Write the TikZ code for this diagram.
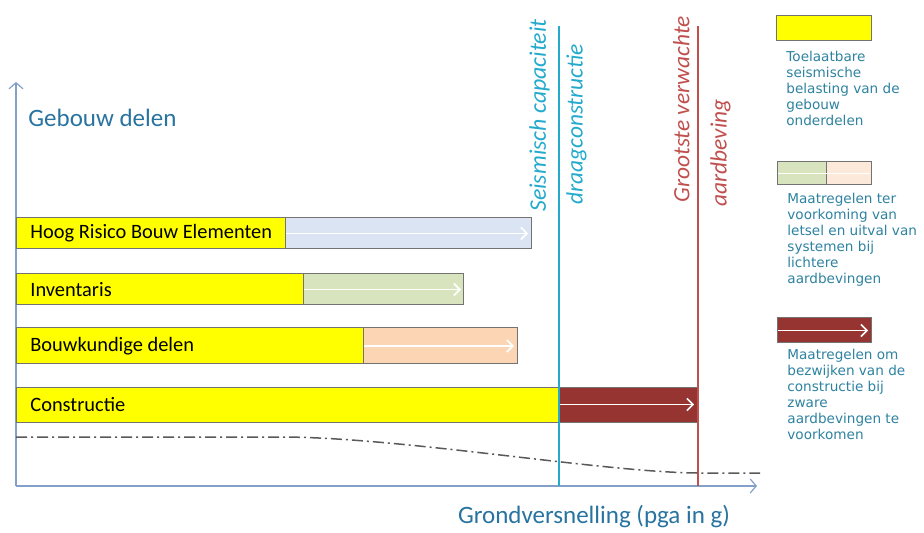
\documentclass[tikz,border=0pt]{standalone}
\usepackage{fontspec}
\setmainfont{Carlito}
\newfontfamily\legendfont{DejaVu Sans}
\usetikzlibrary{calc,arrows.meta}
\usepackage{xcolor}

\definecolor{axisblue}{RGB}{130,160,200}
\definecolor{titleblue}{RGB}{40,115,160}
\definecolor{capcyan}{RGB}{35,170,205}
\definecolor{quakered}{RGB}{192,80,77}
\definecolor{baryellow}{RGB}{255,255,0}
\definecolor{barblue}{RGB}{219,228,243}
\definecolor{bargreen}{RGB}{215,228,189}
\definecolor{barpeach}{RGB}{252,213,181}
\definecolor{barred}{RGB}{150,52,50}
\definecolor{lightpeach}{RGB}{253,233,217}
\definecolor{legendtext}{RGB}{45,130,160}

\begin{document}
\begin{tikzpicture}[x=0.5pt,y=-0.5pt,
    barbox/.style={draw=black!55,line width=0.5pt},
    barlabel/.style={anchor=west,inner sep=0pt,font=\fontsize{10.2}{12}\selectfont},
    whitearrow/.style={white,line width=0.8pt,-{Straight Barb[length=3pt,width=6pt]}},
    legendlabel/.style={anchor=north west,inner sep=0pt,align=left,text=legendtext,
      font=\legendfont\fontsize{6.8}{8}\selectfont}]
  \useasboundingbox (0,0) rectangle (924,533);

  % Assen
  \coordinate (O) at (16,486);
  \coordinate (Ytop) at (16,82);
  \coordinate (Xend) at (757,486);
  \draw[axisblue,line width=0.6pt,-{Straight Barb[length=3pt,width=7pt]}] (O) -- (Ytop);
  \draw[axisblue,line width=0.6pt,-{Straight Barb[length=3pt,width=7pt]}] (O) -- (Xend);
  \node[anchor=west,inner sep=0pt,text=titleblue,font=\fontsize{12.5}{14}\selectfont] (ytitle) at (28,118) {Gebouw delen};
  \node[inner sep=0pt,text=titleblue,font=\fontsize{12.5}{14}\selectfont] (xtitle) at (594,517) {Grondversnelling (pga in g)};

  % Balken
  \draw[barbox,fill=baryellow] (16,218) rectangle (285,249);
  \draw[barbox,fill=barblue] (285,218) rectangle (531,249);
  \node[barlabel] (hrbe) at (30,233.5) {Hoog Risico Bouw Elementen};
  \coordinate (hrbe-s) at (286,233.5);
  \coordinate (hrbe-e) at (528,233.5);
  \draw[whitearrow] (hrbe-s) -- (hrbe-e);

  \draw[barbox,fill=baryellow] (16,274) rectangle (303,305);
  \draw[barbox,fill=bargreen] (303,274) rectangle (463,305);
  \node[barlabel] (inv) at (30,289.5) {Inventaris};
  \coordinate (inv-s) at (304,289.5);
  \coordinate (inv-e) at (461,289.5);
  \draw[whitearrow] (inv-s) -- (inv-e);

  \draw[barbox,fill=baryellow] (16,328) rectangle (363,364);
  \draw[barbox,fill=barpeach] (363,328) rectangle (517,364);
  \node[barlabel] (bkd) at (30,346) {Bouwkundige delen};
  \coordinate (bkd-s) at (364,346);
  \coordinate (bkd-e) at (514,346);
  \draw[whitearrow] (bkd-s) -- (bkd-e);

  \draw[barbox,fill=baryellow] (16,387) rectangle (559,422);
  \draw[barbox,fill=barred] (559,387) rectangle (697,422);
  \node[barlabel] (con) at (30,404.5) {Constructie};
  \coordinate (con-s) at (560,404.5);
  \coordinate (con-e) at (694,404.5);
  \draw[whitearrow] (con-s) -- (con-e);

  % Grenzen
  \coordinate (cap-t) at (559,26);
  \coordinate (cap-b) at (559,486);
  \coordinate (eq-t) at (698,26);
  \coordinate (eq-b) at (698,486);
  \draw[capcyan,line width=1pt] (cap-t) -- (cap-b);
  \draw[quakered,line width=1pt] (eq-t) -- (eq-b);
  \node[rotate=90,anchor=south west,inner sep=0pt,text=capcyan,font=\itshape\fontsize{11.9}{13}\selectfont] (cap1) at (550,212) {Seismisch capaciteit};
  \node[rotate=90,anchor=north west,inner sep=0pt,text=capcyan,font=\itshape\fontsize{11.7}{13}\selectfont] (cap2) at (566,205) {draagconstructie};
  \node[rotate=90,anchor=south west,inner sep=0pt,text=quakered,font=\itshape\fontsize{11.7}{13}\selectfont] (eq1) at (690,203) {Grootste verwachte};
  \node[rotate=90,anchor=north west,inner sep=0pt,text=quakered,font=\itshape\fontsize{11.7}{13}\selectfont] (eq2) at (710,207) {aardbeving};

  % Streep-punt lijn
  \coordinate (dd-a) at (16,437);
  \coordinate (dd-b) at (280,437);
  \coordinate (dd-c) at (697,473);
  \coordinate (dd-d) at (760,473);
  \draw[black!65,line width=0.75pt,dash pattern=on 5.5pt off 2pt on 1pt off 2pt]
    (dd-a) -- (dd-b) .. controls (400,437) and (600,472) .. (dd-c) -- (dd-d);

  % Legenda
  \draw[barbox,fill=baryellow] (776,16) rectangle (871,41);
  \node[legendlabel] (leg1) at (786,51) {Toelaatbare\\seismische\\belasting van de\\gebouw\\onderdelen};

  \draw[barbox,fill=bargreen] (777,162) rectangle (826,185);
  \draw[barbox,fill=lightpeach] (826,162) rectangle (871,185);
  \coordinate (leg2-s) at (778,173.5);
  \coordinate (leg2-e) at (870,173.5);
  \draw[white,line width=0.8pt] (leg2-s) -- (leg2-e);
  \node[legendlabel] (leg2) at (787,193) {Maatregelen ter\\voorkoming van\\letsel en uitval van\\systemen bij\\lichtere\\aardbevingen};

  \draw[barbox,fill=barred] (777,318) rectangle (871,343);
  \coordinate (leg3-s) at (778,330.5);
  \coordinate (leg3-e) at (868,330.5);
  \draw[whitearrow] (leg3-s) -- (leg3-e);
  \node[legendlabel] (leg3) at (787,349) {Maatregelen om\\bezwijken van de\\constructie bij\\zware\\aardbevingen te\\voorkomen};
\end{tikzpicture}
\end{document}
